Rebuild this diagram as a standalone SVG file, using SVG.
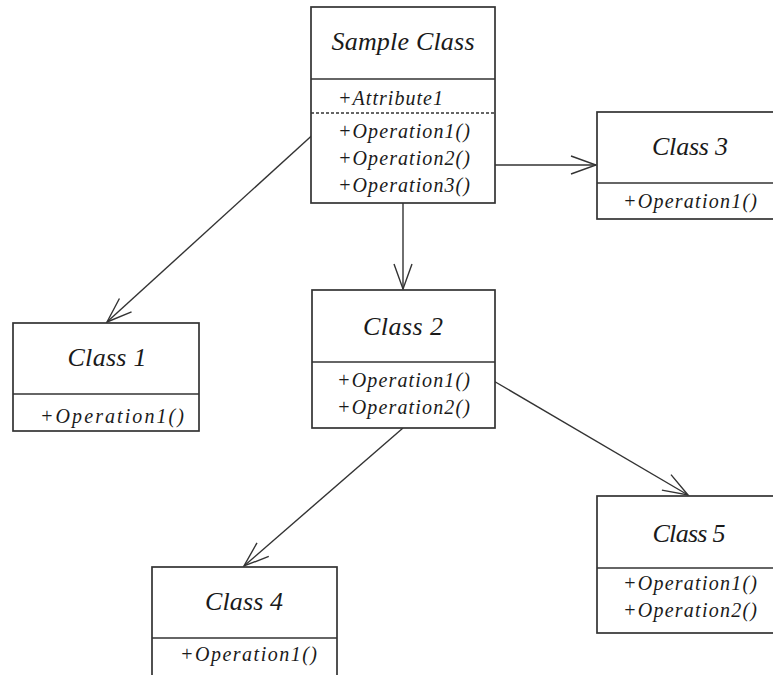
<svg xmlns="http://www.w3.org/2000/svg" width="773" height="675" viewBox="0 0 773 675">
  <style>
    .box { fill: #ffffff; stroke: #333333; stroke-width: 1.7; }
    .sep { stroke: #333333; stroke-width: 1.7; fill: none; }
    .dash { stroke: #333333; stroke-width: 1.3; stroke-dasharray: 3 2; fill: none; }
    .title { font-family: "Liberation Serif", "Times New Roman", serif; font-style: italic; font-size: 26px; fill: #1a1a1a; text-anchor: middle; }
    .member { font-family: "Liberation Serif", "Times New Roman", serif; font-style: italic; font-size: 20px; fill: #1a1a1a; }
    .edge { stroke: #333333; stroke-width: 1.4; fill: none; marker-end: url(#open); }
  </style>
  <defs>
    <marker id="open" markerUnits="userSpaceOnUse" markerWidth="30" markerHeight="24" viewBox="-27 -12 30 24" refX="0" refY="0" orient="auto">
      <path d="M-25,-9 L0,0 L-25,9" fill="none" stroke="#333333" stroke-width="1.4"/>
    </marker>
  </defs>
  <rect width="773" height="675" fill="#ffffff"/>

  <!-- associations -->
  <g id="connectors">
    <line class="edge" x1="318" y1="130" x2="107" y2="322"/>
    <line class="edge" x1="403" y1="203" x2="403" y2="289"/>
    <line class="edge" x1="495" y1="165" x2="596" y2="165"/>
    <line class="edge" x1="403" y1="428" x2="244" y2="566"/>
    <line class="edge" x1="492" y1="380" x2="688" y2="495"/>
  </g>

  <g id="sample-class">
    <rect class="box" x="311" y="7" width="184" height="196"/>
    <line class="sep" x1="311" y1="79" x2="495" y2="79"/>
    <line class="dash" x1="311" y1="113" x2="495" y2="113"/>
    <text class="title" x="403" y="50" textLength="143">Sample Class</text>
    <text class="member" x="338" y="105" font-size="19" textLength="105">+Attribute1</text>
    <text class="member" x="338" y="138" textLength="132">+Operation1()</text>
    <text class="member" x="338" y="165" textLength="132">+Operation2()</text>
    <text class="member" x="338" y="192" textLength="132">+Operation3()</text>
  </g>

  <g id="class-3">
    <rect class="box" x="597" y="112" width="180" height="107"/>
    <line class="sep" x1="597" y1="183" x2="777" y2="183"/>
    <text class="title" x="690" y="155" textLength="76">Class 3</text>
    <text class="member" x="623" y="208" textLength="134">+Operation1()</text>
  </g>

  <g id="class-1">
    <rect class="box" x="13" y="323" width="186" height="108"/>
    <line class="sep" x1="13" y1="394" x2="199" y2="394"/>
    <text class="title" x="107" y="366" textLength="79">Class 1</text>
    <text class="member" x="40" y="423" textLength="144">+Operation1()</text>
  </g>

  <g id="class-2">
    <rect class="box" x="312" y="290" width="183" height="138"/>
    <line class="sep" x1="312" y1="362" x2="495" y2="362"/>
    <text class="title" x="403" y="335" textLength="80">Class 2</text>
    <text class="member" x="337" y="387" textLength="133">+Operation1()</text>
    <text class="member" x="337" y="414" textLength="133">+Operation2()</text>
  </g>

  <g id="class-5">
    <rect class="box" x="597" y="496" width="180" height="137"/>
    <line class="sep" x1="597" y1="568" x2="777" y2="568"/>
    <text class="title" x="689" y="542" textLength="73">Class 5</text>
    <text class="member" x="623" y="590" textLength="134">+Operation1()</text>
    <text class="member" x="623" y="617" textLength="134">+Operation2()</text>
  </g>

  <g id="class-4">
    <rect class="box" x="152" y="567" width="185" height="120"/>
    <line class="sep" x1="152" y1="638" x2="337" y2="638"/>
    <text class="title" x="244" y="610" textLength="78">Class 4</text>
    <text class="member" x="180" y="661" textLength="137">+Operation1()</text>
  </g>
</svg>
